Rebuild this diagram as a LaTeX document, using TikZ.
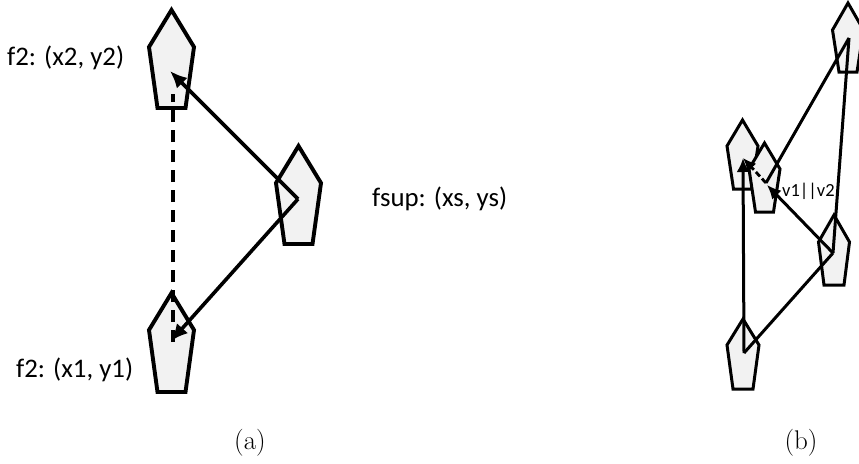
\documentclass[tikz,border=0pt]{standalone}
\usepackage{fontspec}
\newfontfamily\carl{Carlito}
\usetikzlibrary{arrows.meta}
\tikzset{
  x=1pt,y=-1pt,
  pent/.style={draw=black,fill=black!5,line width=3.9pt,miter limit=10},
  link/.style={draw=black,line width=3.6pt},
  arrowlink/.style={link,-{Latex[length=17pt,width=15pt]}},
  dashlink/.style={draw=black,line width=4pt,dash pattern=on 12pt off 8pt},
  thinlink/.style={draw=black,line width=3pt},
  thinarrow/.style={thinlink,-{Latex[length=14pt,width=13pt]}},
  thindash/.style={draw=black,line width=2.8pt,dash pattern=on 6pt off 3pt,-{Latex[length=13pt,width=12pt]}},
  thinpent/.style={draw=black,fill=black!5,line width=3pt},
  lab/.style={font=\carl\fontsize{26.8}{30}\selectfont,inner sep=0pt,anchor=west},
  captext/.style={font=\fontsize{27}{30}\selectfont,inner sep=0pt}
}
\newcommand{\pentagon}[7][pent]{% style, cx, apexy, shouldery, bottomy, halfw, halfbottom
  \draw[#1] (#2,#3) -- (#2+#6,#4) -- (#2+#7,#5) -- (#2-#7,#5) -- (#2-#6,#4) -- cycle;}
\begin{document}
\begin{tikzpicture}
\useasboundingbox (0,0) rectangle (859,463);
\clip (0,0) rectangle (859,463);
% panel (a)
\pentagon{171.5}{10}{47}{108}{22.5}{14}
\pentagon{298.5}{146}{183}{244}{22.5}{14}
\pentagon{171.5}{293}{330}{392}{22.5}{14}
\coordinate (s) at (298,199);
\coordinate (p2) at (170,71);
\coordinate (p1) at (171,341);
\draw[arrowlink] (s) -- (p2);
\draw[arrowlink] (s) -- (p1);
\draw[dashlink] (172.5,342) -- (172.5,94);
\node[lab] (l2) at (7,58) {f2: (x2, y2)};
\node[lab] (l1) at (16,370) {f2: (x1, y1)};
\node[lab] (ls) at (372,199) {fsup: (xs, ys)};
\node[captext] (ca) at (250,443) {(a)};
% panel (b)
\pentagon[thinpent]{848}{3}{30}{72}{15.5}{9}
\pentagon[thinpent]{742.5}{120}{146}{189}{15.5}{9}
\pentagon[thinpent]{764.5}{143}{169}{212}{15.5}{9}
\pentagon[thinpent]{834}{215}{242}{285}{15.5}{10}
\pentagon[thinpent]{743}{319}{345}{389}{16}{10}
\coordinate (a) at (849,38);
\coordinate (c) at (766,183);
\coordinate (b) at (743,158);
\coordinate (ct) at (767,185);
\coordinate (d) at (833,253);
\coordinate (e) at (744,353);
\draw[thinlink] (a) -- (c);
\draw[thinlink] (a) -- (d);
\draw[thinarrow] (d) -- (ct);
\draw[thinlink] (d) -- (e);
\draw[thinarrow] (e) -- (b);
\draw[thindash] (c) -- (b);
\node[font=\carl\fontsize{18.5}{20}\selectfont,inner sep=0pt,anchor=west] (lv) at (782,191) {v1||v2};
\node[captext] (cb) at (801,443) {(b)};
\end{tikzpicture}
\end{document}
